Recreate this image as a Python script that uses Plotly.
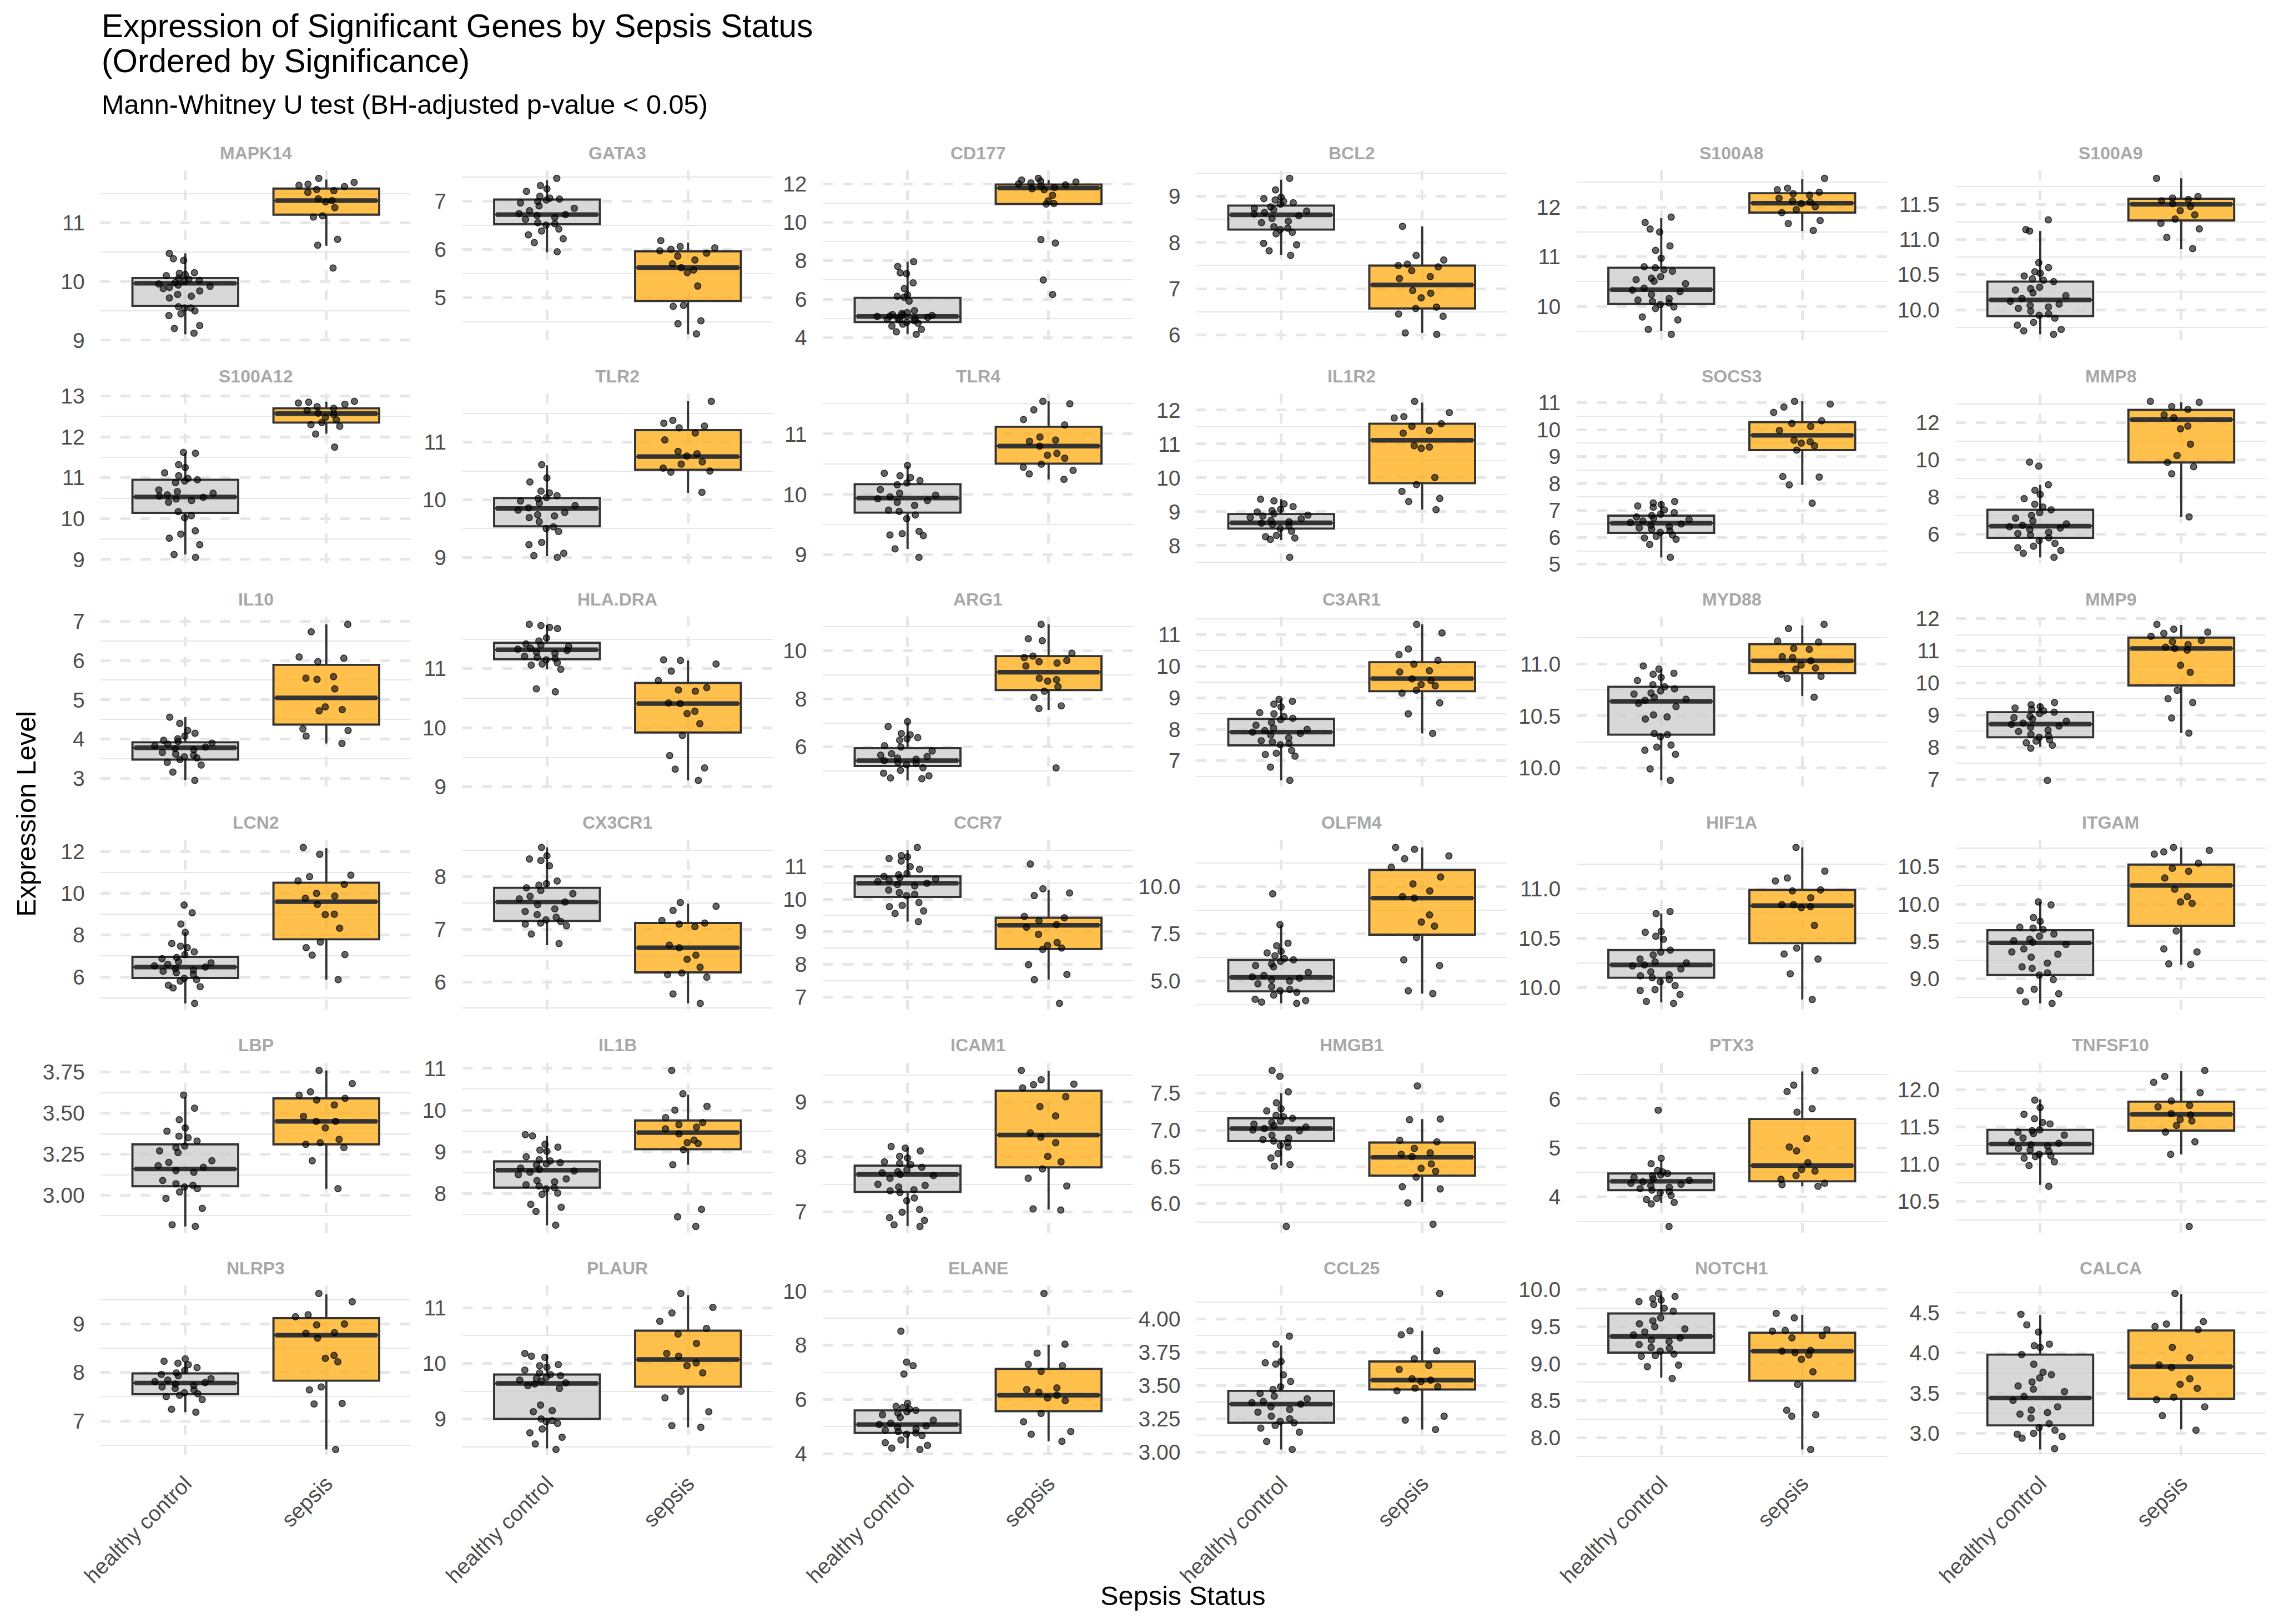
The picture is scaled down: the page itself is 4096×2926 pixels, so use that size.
import plotly.graph_objects as go

# ---------------- data ----------------
CATEGORIES = ["healthy control", "sepsis"]

GENES = ["MAPK14", "GATA3", "CD177", "BCL2", "S100A8", "S100A9",
         "S100A12", "TLR2", "TLR4", "IL1R2", "SOCS3", "MMP8",
         "IL10", "HLA.DRA", "ARG1", "C3AR1", "MYD88", "MMP9",
         "LCN2", "CX3CR1", "CCR7", "OLFM4", "HIF1A", "ITGAM",
         "LBP", "IL1B", "ICAM1", "HMGB1", "PTX3", "TNFSF10",
         "NLRP3", "PLAUR", "ELANE", "CCL25", "NOTCH1", "CALCA"]

# box statistics: [lower whisker, q1, median, q3, upper whisker]
HC_BOX = [
    [9.10, 9.585, 9.97, 10.06, 10.48], [5.94, 6.52, 6.72, 7.03, 7.43], [4.19, 4.81, 5.10, 6.07, 7.95],
    [7.73, 8.28, 8.60, 8.80, 9.36], [9.51, 10.05, 10.34, 10.78, 11.78], [9.65, 9.91, 10.14, 10.40, 11.12],
    [9.12, 10.14, 10.53, 10.95, 11.60], [9.02, 9.54, 9.85, 10.03, 10.60], [9.10, 9.70, 9.94, 10.17, 10.47],
    [8.16, 8.50, 8.67, 8.93, 9.37], [5.26, 6.17, 6.53, 6.81, 7.33], [4.75, 5.80, 6.43, 7.31, 8.66],
    [2.96, 3.48, 3.78, 3.92, 4.56], [10.99, 11.16, 11.32, 11.44, 11.74], [4.61, 5.21, 5.43, 5.95, 7.02],
    [6.38, 7.49, 7.91, 8.33, 8.95], [9.88, 10.32, 10.64, 10.78, 10.95], [8.01, 8.31, 8.72, 9.09, 9.34],
    [4.73, 5.95, 6.47, 6.96, 8.13], [6.70, 7.16, 7.52, 7.79, 8.56], [9.31, 10.07, 10.49, 10.70, 11.51],
    [3.81, 4.45, 5.19, 6.12, 7.95], [9.85, 10.10, 10.23, 10.38, 10.75], [8.67, 9.05, 9.48, 9.65, 10.03],
    [2.81, 3.055, 3.16, 3.31, 3.60], [7.24, 8.14, 8.56, 8.77, 9.38], [6.74, 7.36, 7.68, 7.84, 8.17],
    [6.52, 6.85, 7.02, 7.16, 7.50], [3.88, 4.14, 4.32, 4.48, 4.75], [10.72, 11.14, 11.27, 11.46, 11.87],
    [7.18, 7.55, 7.78, 7.98, 8.22], [8.47, 9.00, 9.64, 9.80, 10.16], [4.21, 4.77, 5.08, 5.60, 5.86],
    [3.02, 3.22, 3.36, 3.46, 3.80], [8.81, 9.15, 9.37, 9.68, 9.93], [2.80, 3.10, 3.44, 3.98, 4.47],
]

SEPSIS_BOX = [
    [10.61, 11.14, 11.38, 11.585, 11.74], [4.24, 4.93, 5.62, 5.96, 6.14], [10.92, 10.95, 11.78, 11.97, 12.20],
    [6.04, 6.57, 7.08, 7.50, 8.35], [11.52, 11.89, 12.08, 12.28, 12.56], [10.86, 11.27, 11.50, 11.58, 11.87],
    [12.08, 12.35, 12.57, 12.70, 12.86], [10.12, 10.52, 10.75, 11.21, 11.71], [10.25, 10.51, 10.80, 11.12, 11.54],
    [9.06, 9.84, 11.11, 11.60, 12.22], [7.95, 9.24, 9.79, 10.28, 11.05], [6.93, 9.86, 12.17, 12.69, 13.10],
    [3.89, 4.37, 5.05, 5.89, 6.92], [9.11, 9.92, 10.41, 10.76, 11.14], [7.54, 8.37, 9.11, 9.78, 11.10],
    [7.87, 9.21, 9.61, 10.13, 11.33], [10.69, 10.91, 11.03, 11.19, 11.37], [8.44, 9.92, 11.07, 11.41, 11.80],
    [5.87, 7.80, 9.60, 10.51, 12.16], [5.59, 6.18, 6.65, 7.12, 7.49], [7.53, 8.47, 9.20, 9.43, 10.28],
    [4.33, 7.46, 9.40, 10.90, 12.09], [9.88, 10.45, 10.83, 10.99, 11.42], [9.19, 9.71, 10.25, 10.53, 10.76],
    [3.04, 3.31, 3.45, 3.59, 3.76], [8.69, 9.06, 9.46, 9.75, 10.37], [7.04, 7.81, 8.40, 9.21, 9.57],
    [6.02, 6.38, 6.63, 6.83, 7.15], [4.22, 4.32, 4.64, 5.59, 6.56], [11.13, 11.45, 11.67, 11.84, 12.25],
    [6.41, 7.83, 8.77, 9.12, 9.61], [8.85, 9.58, 10.07, 10.59, 11.23], [4.46, 5.57, 6.16, 7.13, 8.02],
    [3.17, 3.47, 3.54, 3.68, 3.91], [7.84, 8.77, 9.17, 9.42, 9.66], [3.05, 3.43, 3.83, 4.28, 4.73],
]

HC_POINTS = [
    [10.48, 10.39, 10.36, 10.14, 10.15, 10.12, 10.10, 10.06, 10.04, 10.02, 10.00, 9.98, 9.96, 9.94, 9.92, 9.90, 9.88, 9.84, 9.78, 9.75, 9.72, 9.57, 9.55, 9.55, 9.50, 9.45, 9.42, 9.25, 9.20, 9.12],
    [7.47, 7.32, 7.25, 7.20, 7.10, 7.06, 7.04, 7.02, 6.99, 6.96, 6.90, 6.85, 6.80, 6.74, 6.72, 6.70, 6.66, 6.62, 6.55, 6.53, 6.50, 6.42, 6.38, 6.30, 6.22, 6.14, 5.95],
    [7.95, 7.70, 7.37, 7.33, 6.85, 6.55, 6.22, 6.15, 6.10, 5.90, 5.40, 5.30, 5.25, 5.20, 5.18, 5.15, 5.12, 5.10, 5.05, 5.00, 4.98, 4.95, 4.92, 4.88, 4.80, 4.75, 4.70, 4.60, 4.43, 4.30, 4.17],
    [9.39, 9.14, 8.98, 8.95, 8.92, 8.89, 8.86, 8.83, 8.77, 8.74, 8.71, 8.68, 8.65, 8.62, 8.58, 8.52, 8.46, 8.43, 8.34, 8.31, 8.28, 8.22, 8.19, 7.98, 7.95, 7.82, 7.72],
    [11.80, 11.69, 11.56, 11.50, 11.22, 11.13, 10.97, 10.80, 10.78, 10.74, 10.71, 10.60, 10.57, 10.54, 10.51, 10.46, 10.37, 10.33, 10.30, 10.24, 10.16, 10.13, 10.10, 10.07, 10.04, 9.99, 9.96, 9.79, 9.73, 9.54, 9.44],
    [11.28, 11.14, 11.12, 10.67, 10.60, 10.54, 10.52, 10.48, 10.44, 10.42, 10.40, 10.32, 10.30, 10.28, 10.24, 10.20, 10.16, 10.12, 10.08, 10.06, 10.04, 10.02, 9.98, 9.94, 9.92, 9.88, 9.82, 9.78, 9.72, 9.70, 9.65],
    [11.62, 11.60, 11.32, 11.25, 11.12, 11.05, 10.98, 10.95, 10.92, 10.88, 10.70, 10.66, 10.62, 10.58, 10.55, 10.52, 10.48, 10.44, 10.40, 10.17, 10.07, 10.02, 9.70, 9.62, 9.52, 9.36, 9.12, 9.05],
    [10.61, 10.38, 10.31, 10.15, 10.12, 10.07, 10.04, 10.02, 9.98, 9.94, 9.90, 9.86, 9.82, 9.78, 9.74, 9.72, 9.69, 9.62, 9.53, 9.50, 9.45, 9.26, 9.22, 9.07, 9.03, 9.00],
    [10.48, 10.35, 10.31, 10.28, 10.23, 10.19, 10.16, 10.08, 10.02, 9.99, 9.96, 9.93, 9.90, 9.87, 9.82, 9.74, 9.72, 9.66, 9.60, 9.39, 9.35, 9.33, 9.32, 9.10, 8.96],
    [9.37, 9.32, 9.23, 9.15, 9.07, 9.03, 8.99, 8.94, 8.90, 8.87, 8.83, 8.79, 8.74, 8.70, 8.66, 8.62, 8.58, 8.50, 8.42, 8.30, 8.26, 8.22, 8.18, 7.65],
    [7.33, 7.28, 7.22, 7.17, 7.12, 7.02, 6.92, 6.86, 6.81, 6.76, 6.71, 6.66, 6.61, 6.55, 6.50, 6.45, 6.40, 6.35, 6.30, 6.24, 6.19, 6.09, 6.04, 5.98, 5.93, 5.74, 5.26],
    [9.88, 9.66, 8.66, 8.36, 8.14, 7.91, 7.61, 7.46, 7.31, 7.16, 7.01, 6.86, 6.71, 6.55, 6.48, 6.40, 6.33, 6.25, 6.10, 6.03, 5.95, 5.80, 5.65, 5.50, 5.35, 5.27, 5.12, 4.97, 4.75],
    [4.56, 4.40, 4.22, 4.15, 4.08, 4.01, 3.97, 3.94, 3.90, 3.87, 3.83, 3.80, 3.76, 3.73, 3.66, 3.62, 3.59, 3.55, 3.52, 3.48, 3.41, 3.34, 3.16, 2.95],
    [11.75, 11.73, 11.70, 11.68, 11.52, 11.47, 11.42, 11.40, 11.38, 11.35, 11.33, 11.31, 11.28, 11.26, 11.21, 11.19, 11.17, 11.15, 11.10, 11.08, 11.06, 10.99, 10.66, 10.61],
    [7.05, 6.85, 6.56, 6.51, 6.39, 6.34, 6.28, 6.05, 6.00, 5.83, 5.72, 5.66, 5.60, 5.54, 5.49, 5.43, 5.37, 5.32, 5.26, 5.14, 5.03, 4.91, 4.80, 4.71, 4.68],
    [8.95, 8.89, 8.80, 8.71, 8.53, 8.49, 8.40, 8.35, 8.31, 8.22, 8.13, 8.04, 8.00, 7.96, 7.91, 7.87, 7.82, 7.73, 7.64, 7.60, 7.55, 7.51, 7.33, 7.24, 7.20, 7.15, 6.80, 6.38],
    [10.98, 10.95, 10.91, 10.90, 10.87, 10.84, 10.80, 10.78, 10.76, 10.74, 10.72, 10.71, 10.68, 10.66, 10.65, 10.62, 10.59, 10.51, 10.49, 10.47, 10.33, 10.32, 10.30, 10.22, 10.20, 10.17, 10.13, 9.99, 9.88],
    [9.39, 9.32, 9.26, 9.22, 9.18, 9.13, 9.09, 9.05, 8.96, 8.92, 8.88, 8.81, 8.75, 8.71, 8.66, 8.62, 8.53, 8.49, 8.40, 8.36, 8.31, 8.23, 8.19, 8.14, 8.06, 7.97, 6.97],
    [9.44, 9.07, 8.53, 8.13, 7.60, 7.47, 7.40, 7.20, 7.07, 6.93, 6.87, 6.73, 6.67, 6.60, 6.53, 6.47, 6.40, 6.33, 6.27, 6.20, 6.13, 5.93, 5.87, 5.80, 5.60, 5.53, 5.47, 4.73],
    [8.56, 8.40, 8.34, 8.31, 8.21, 7.92, 7.87, 7.84, 7.79, 7.74, 7.68, 7.63, 7.58, 7.52, 7.47, 7.39, 7.34, 7.28, 7.23, 7.18, 7.15, 7.12, 7.10, 7.07, 6.91, 6.73],
    [11.59, 11.34, 11.30, 11.25, 11.17, 11.00, 10.92, 10.79, 10.75, 10.70, 10.66, 10.62, 10.58, 10.54, 10.49, 10.45, 10.41, 10.28, 10.20, 10.15, 10.11, 9.90, 9.81, 9.77, 9.64, 9.56, 9.31],
    [9.63, 7.99, 7.01, 6.87, 6.57, 6.49, 6.34, 6.19, 6.12, 6.04, 5.90, 5.82, 5.75, 5.45, 5.30, 5.22, 5.15, 5.07, 5.00, 4.85, 4.70, 4.55, 4.48, 4.40, 4.25, 4.03, 3.96, 3.88, 3.81],
    [10.77, 10.75, 10.57, 10.56, 10.52, 10.49, 10.38, 10.36, 10.33, 10.29, 10.26, 10.25, 10.23, 10.22, 10.19, 10.16, 10.13, 10.12, 10.10, 10.08, 10.06, 10.02, 9.98, 9.97, 9.93, 9.86, 9.84],
    [10.03, 9.99, 9.82, 9.77, 9.69, 9.68, 9.66, 9.60, 9.57, 9.53, 9.51, 9.49, 9.46, 9.40, 9.36, 9.33, 9.29, 9.21, 9.16, 9.14, 9.08, 9.05, 8.99, 8.86, 8.84, 8.80, 8.69, 8.67],
    [3.61, 3.53, 3.46, 3.41, 3.39, 3.36, 3.35, 3.33, 3.30, 3.29, 3.27, 3.26, 3.21, 3.20, 3.18, 3.17, 3.15, 3.14, 3.09, 3.07, 3.06, 3.05, 3.04, 3.02, 2.98, 2.92, 2.82, 2.81],
    [9.41, 9.38, 9.18, 9.11, 9.04, 9.01, 8.88, 8.81, 8.78, 8.74, 8.71, 8.68, 8.61, 8.58, 8.54, 8.51, 8.45, 8.35, 8.31, 8.28, 8.21, 8.18, 8.14, 8.11, 8.01, 7.98, 7.74, 7.67, 7.57, 7.24],
    [8.19, 8.16, 8.11, 8.01, 7.98, 7.91, 7.88, 7.86, 7.81, 7.76, 7.73, 7.71, 7.68, 7.66, 7.61, 7.50, 7.48, 7.45, 7.40, 7.38, 7.35, 7.25, 7.20, 7.04, 6.99, 6.89, 6.84, 6.76, 6.73],
    [7.81, 7.73, 7.52, 7.37, 7.29, 7.26, 7.20, 7.18, 7.16, 7.12, 7.10, 7.08, 7.06, 7.04, 7.02, 7.00, 6.99, 6.93, 6.89, 6.87, 6.85, 6.83, 6.79, 6.77, 6.68, 6.62, 6.53, 6.51, 5.69],
    [5.77, 4.79, 4.68, 4.54, 4.51, 4.48, 4.45, 4.43, 4.40, 4.37, 4.34, 4.31, 4.28, 4.26, 4.23, 4.20, 4.17, 4.14, 4.11, 4.09, 4.03, 3.97, 3.95, 3.89, 3.86, 3.40],
    [11.86, 11.76, 11.67, 11.61, 11.56, 11.54, 11.46, 11.45, 11.43, 11.41, 11.39, 11.35, 11.30, 11.28, 11.26, 11.24, 11.21, 11.19, 11.17, 11.13, 11.11, 11.10, 11.08, 11.03, 10.98, 10.70],
    [8.28, 8.23, 8.19, 8.16, 8.10, 8.04, 7.99, 7.96, 7.93, 7.87, 7.84, 7.81, 7.79, 7.76, 7.73, 7.70, 7.67, 7.64, 7.58, 7.56, 7.53, 7.50, 7.44, 7.24, 7.18],
    [10.18, 10.13, 10.11, 9.98, 9.96, 9.93, 9.88, 9.83, 9.80, 9.78, 9.75, 9.73, 9.70, 9.68, 9.65, 9.63, 9.60, 9.55, 9.25, 9.15, 9.13, 9.00, 8.97, 8.95, 8.92, 8.82, 8.75, 8.67, 8.55, 8.45],
    [8.52, 7.38, 7.25, 6.94, 5.86, 5.75, 5.70, 5.65, 5.60, 5.55, 5.50, 5.44, 5.34, 5.24, 5.13, 5.08, 5.03, 4.98, 4.92, 4.87, 4.82, 4.77, 4.72, 4.67, 4.51, 4.41, 4.31, 4.21, 4.16],
    [3.87, 3.81, 3.68, 3.67, 3.66, 3.58, 3.53, 3.49, 3.47, 3.44, 3.42, 3.40, 3.38, 3.37, 3.36, 3.34, 3.32, 3.30, 3.27, 3.25, 3.23, 3.22, 3.20, 3.18, 3.15, 3.08, 3.02],
    [9.95, 9.91, 9.88, 9.86, 9.84, 9.80, 9.75, 9.71, 9.62, 9.58, 9.54, 9.50, 9.47, 9.43, 9.39, 9.35, 9.32, 9.30, 9.26, 9.22, 9.21, 9.17, 9.13, 9.11, 9.10, 8.98, 8.96, 8.80],
    [4.48, 4.35, 4.26, 4.11, 4.09, 4.07, 3.98, 3.86, 3.76, 3.73, 3.69, 3.64, 3.59, 3.55, 3.52, 3.46, 3.41, 3.33, 3.29, 3.26, 3.24, 3.19, 3.12, 3.07, 3.04, 3.00, 2.99, 2.96, 2.94, 2.81],
]

SEPSIS_POINTS = [
    [11.76, 11.69, 11.66, 11.64, 11.62, 11.57, 11.55, 11.52, 11.41, 11.38, 11.36, 11.26, 11.12, 11.10, 10.72, 10.62, 10.23],
    [6.18, 6.06, 6.03, 6.00, 5.97, 5.92, 5.86, 5.78, 5.70, 5.62, 5.57, 5.52, 5.24, 4.84, 4.82, 4.52, 4.46, 4.25],
    [12.29, 12.20, 12.15, 12.10, 12.05, 12.00, 11.95, 11.90, 11.82, 11.75, 11.70, 11.41, 11.12, 10.98, 10.95, 9.10, 8.92, 7.00, 6.24],
    [8.35, 7.72, 7.62, 7.53, 7.50, 7.47, 7.39, 7.26, 7.22, 6.96, 6.90, 6.80, 6.60, 6.57, 6.45, 6.40, 6.04, 6.01],
    [12.58, 12.38, 12.35, 12.30, 12.27, 12.24, 12.18, 12.12, 12.10, 12.07, 12.01, 11.95, 11.89, 11.73, 11.67, 11.53],
    [11.87, 11.61, 11.59, 11.57, 11.55, 11.51, 11.47, 11.41, 11.35, 11.29, 11.23, 11.15, 11.03, 10.87],
    [12.87, 12.85, 12.83, 12.80, 12.74, 12.70, 12.65, 12.58, 12.55, 12.48, 12.42, 12.35, 12.30, 12.26, 12.07, 11.75],
    [11.71, 11.38, 11.33, 11.28, 11.25, 11.16, 11.04, 10.84, 10.80, 10.76, 10.66, 10.62, 10.55, 10.50, 10.48, 10.13],
    [11.54, 11.50, 11.40, 11.24, 11.15, 10.95, 10.90, 10.88, 10.80, 10.68, 10.65, 10.60, 10.50, 10.45, 10.40, 10.34, 10.25],
    [12.26, 11.93, 11.81, 11.77, 11.60, 11.52, 11.40, 11.32, 10.95, 10.91, 10.87, 10.01, 9.80, 9.60, 9.39, 9.30, 9.06],
    [11.05, 10.95, 10.84, 10.64, 10.33, 10.23, 10.12, 9.97, 9.61, 9.55, 9.50, 9.40, 9.24, 8.26, 8.24, 7.95, 7.27],
    [13.15, 13.10, 12.87, 12.72, 12.42, 12.27, 11.82, 11.67, 10.84, 10.24, 9.86, 9.63, 9.25, 6.93],
    [6.92, 6.73, 6.09, 6.06, 5.97, 5.59, 5.55, 5.52, 5.28, 4.82, 4.75, 4.72, 4.26, 4.22, 4.08, 3.89],
    [11.15, 11.14, 11.08, 10.96, 10.80, 10.68, 10.64, 10.62, 10.42, 10.41, 10.28, 10.24, 10.07, 9.87, 9.53, 9.32, 9.30, 9.11],
    [11.10, 10.50, 10.42, 9.90, 9.78, 9.72, 9.60, 9.55, 9.49, 9.37, 8.86, 8.80, 8.74, 8.51, 8.32, 8.06, 7.71, 7.60, 5.13],
    [11.33, 11.06, 10.55, 10.37, 10.19, 10.07, 9.86, 9.82, 9.60, 9.55, 9.42, 9.38, 9.24, 9.15, 8.84, 8.49, 7.87],
    [11.38, 11.34, 11.22, 11.21, 11.15, 11.14, 11.07, 11.06, 11.03, 10.99, 10.96, 10.95, 10.90, 10.88, 10.86, 10.68],
    [11.82, 11.67, 11.58, 11.54, 11.45, 11.32, 11.28, 11.19, 11.11, 11.07, 11.02, 10.55, 10.33, 9.77, 9.51, 9.39, 8.91, 8.44],
    [12.20, 11.87, 10.87, 10.80, 10.60, 10.43, 10.00, 9.87, 9.76, 9.47, 9.00, 8.98, 8.33, 7.67, 7.40, 7.07, 7.04, 5.87],
    [7.51, 7.44, 7.36, 7.17, 7.12, 7.10, 7.05, 6.70, 6.65, 6.51, 6.43, 6.28, 6.17, 6.14, 6.09, 5.77, 5.59],
    [11.08, 10.32, 10.19, 10.11, 9.47, 9.43, 9.34, 9.22, 9.14, 8.92, 8.67, 8.58, 8.50, 8.46, 7.99, 7.69, 7.53, 6.80],
    [12.09, 11.99, 11.64, 11.49, 11.04, 10.52, 10.15, 9.78, 9.48, 9.40, 8.51, 8.13, 7.91, 7.31, 6.12, 5.82, 4.48, 4.33],
    [11.42, 11.18, 11.11, 11.08, 10.99, 10.98, 10.91, 10.84, 10.84, 10.82, 10.81, 10.63, 10.40, 10.34, 10.29, 10.14, 9.88],
    [10.76, 10.72, 10.70, 10.67, 10.55, 10.48, 10.44, 10.35, 10.20, 10.10, 10.03, 10.01, 9.64, 9.40, 9.36, 9.20, 9.19],
    [3.76, 3.68, 3.63, 3.61, 3.59, 3.58, 3.55, 3.48, 3.45, 3.45, 3.41, 3.34, 3.32, 3.31, 3.29, 3.21, 3.04],
    [10.95, 10.39, 10.09, 10.00, 9.82, 9.70, 9.65, 9.59, 9.55, 9.43, 9.28, 9.22, 9.20, 9.05, 8.69, 7.62, 7.44, 7.21],
    [9.58, 9.41, 9.33, 9.32, 9.26, 9.10, 8.92, 8.75, 8.44, 8.36, 8.26, 8.01, 7.91, 7.78, 7.61, 7.47, 7.05, 7.03],
    [7.60, 7.15, 7.14, 6.86, 6.84, 6.75, 6.69, 6.67, 6.64, 6.54, 6.48, 6.44, 6.36, 6.23, 6.20, 6.01, 5.72],
    [6.58, 6.28, 6.15, 5.80, 5.73, 5.19, 5.02, 4.94, 4.70, 4.56, 4.53, 4.44, 4.36, 4.28, 4.25, 4.22],
    [12.26, 12.18, 12.10, 11.96, 11.85, 11.79, 11.77, 11.68, 11.66, 11.60, 11.58, 11.52, 11.43, 11.30, 11.13, 10.16],
    [9.63, 9.46, 9.19, 9.15, 9.00, 8.98, 8.82, 8.81, 8.71, 8.35, 8.29, 8.22, 7.70, 7.64, 7.36, 7.35, 6.41],
    [11.26, 11.01, 10.91, 10.76, 10.63, 10.53, 10.36, 10.18, 10.13, 10.01, 9.96, 9.83, 9.50, 9.38, 9.13, 8.88, 8.85],
    [9.91, 8.04, 7.71, 7.30, 7.25, 7.04, 6.43, 6.37, 6.27, 6.16, 6.06, 5.96, 5.49, 5.18, 4.82, 4.72, 4.46],
    [4.19, 3.91, 3.88, 3.76, 3.70, 3.65, 3.62, 3.55, 3.54, 3.53, 3.49, 3.48, 3.46, 3.27, 3.24, 3.17],
    [9.68, 9.62, 9.46, 9.45, 9.44, 9.38, 9.35, 9.18, 9.17, 9.15, 9.12, 9.06, 8.89, 8.72, 8.37, 8.31, 8.29, 7.84],
    [4.74, 4.39, 4.36, 4.33, 4.29, 4.07, 3.94, 3.85, 3.82, 3.68, 3.61, 3.56, 3.45, 3.42, 3.33, 3.22, 3.04],
]

Y_TICKS = [
    [9, 10, 11], [5, 6, 7], [4, 6, 8, 10, 12], [6, 7, 8, 9], [10, 11, 12], [10.0, 10.5, 11.0, 11.5],
    [9, 10, 11, 12, 13], [9, 10, 11], [9, 10, 11], [8, 9, 10, 11, 12], [5, 6, 7, 8, 9, 10, 11], [6, 8, 10, 12],
    [3, 4, 5, 6, 7], [9, 10, 11], [6, 8, 10], [7, 8, 9, 10, 11], [10.0, 10.5, 11.0], [7, 8, 9, 10, 11, 12],
    [6, 8, 10, 12], [6, 7, 8], [7, 8, 9, 10, 11], [5.0, 7.5, 10.0], [10.0, 10.5, 11.0], [9.0, 9.5, 10.0, 10.5],
    [3.00, 3.25, 3.50, 3.75], [8, 9, 10, 11], [7, 8, 9], [6.0, 6.5, 7.0, 7.5], [4, 5, 6], [10.5, 11.0, 11.5, 12.0],
    [7, 8, 9], [9, 10, 11], [4, 6, 8, 10], [3.00, 3.25, 3.50, 3.75, 4.00], [8.0, 8.5, 9.0, 9.5, 10.0], [3.0, 3.5, 4.0, 4.5],
]

TITLE_1 = "Expression of Significant Genes by Sepsis Status"
TITLE_2 = "(Ordered by Significance)"
SUBTITLE = "Mann-Whitney U test (BH-adjusted p-value < 0.05)"
X_TITLE = "Sepsis Status"
Y_TITLE = "Expression Level"

# ---------------- style / layout ----------------
REF_W, REF_H = 4200, 3000
W, H = 4096, 2926
FONT = "Liberation Sans, Arial, sans-serif"
FILLS = ["rgba(200,200,200,0.7)", "rgba(255,165,0,0.7)"]
OUTLINE = "#333333"
GRID = "#E6E6E6"
DASH = "18px,18px"
TICK_COLOR = "#4D4D4D"
STRIP_COLOR = "#A8A8A8"

COL_LEFT = [186, 854, 1520, 2210, 2912, 3612]   # reference pixels
PANEL_W = 573
ROW_TOP = [315, 727, 1139, 1551, 1963, 2375]
PANEL_H = 317


def fx(px):
    return px / REF_W


def fy(py):
    return 1 - py / REF_H


def fmt_ticks(vals):
    dec = 0
    for v in vals:
        if isinstance(v, float) and not v.is_integer():
            dec = max(dec, len(repr(v).split(".")[1]))
    return [f"{v:.{dec}f}" for v in vals]


fig = go.Figure()
layout = {}
annotations = []

for i, gene in enumerate(GENES):
    r, c = divmod(i, 6)
    sfx = "" if i == 0 else str(i + 1)
    xa, ya = "x" + sfx, "y" + sfx
    groups = [(HC_BOX[i], HC_POINTS[i]), (SEPSIS_BOX[i], SEPSIS_POINTS[i])]
    all_vals = []
    for g, (b, pts) in enumerate(groups):
        cat = CATEGORIES[g]
        all_vals += list(pts) + [b[0], b[4]]
        # box + whiskers
        fig.add_trace(go.Box(
            x=[cat], q1=[b[1]], median=[b[2]], q3=[b[3]],
            lowerfence=[b[0]], upperfence=[b[4]],
            width=0.75, fillcolor=FILLS[g], whiskerwidth=0,
            line=dict(color=OUTLINE, width=3.9),
            boxpoints=False, xaxis=xa, yaxis=ya,
            hoverinfo="skip", showlegend=False))
        # thick median bar
        fig.add_trace(go.Box(
            x=[cat], q1=[b[2]], median=[b[2]], q3=[b[2]],
            lowerfence=[b[2]], upperfence=[b[2]],
            width=0.72, fillcolor="rgba(0,0,0,0)", whiskerwidth=0,
            line=dict(color=OUTLINE, width=8.3),
            boxpoints=False, xaxis=xa, yaxis=ya,
            hoverinfo="skip", showlegend=False))
        # jittered points
        fig.add_trace(go.Box(
            x=[cat] * len(pts), y=pts,
            boxpoints="all", jitter=0.6, pointpos=0, width=0.75,
            fillcolor="rgba(0,0,0,0)", whiskerwidth=0,
            line=dict(color="rgba(0,0,0,0)", width=0),
            marker=dict(size=11.5, color="rgba(0,0,0,0.6)",
                        line=dict(width=1.7, color="rgba(0,0,0,0.72)")),
            xaxis=xa, yaxis=ya, hoverinfo="skip", showlegend=False))

    lo, hi = min(all_vals), max(all_vals)
    pad = 0.05 * (hi - lo)
    ticks = Y_TICKS[i]
    step = ticks[1] - ticks[0]
    minor = [t - step / 2 for t in ticks] + [ticks[-1] + step / 2]

    x0 = COL_LEFT[c]
    y0 = ROW_TOP[r]
    layout["xaxis" + sfx] = dict(
        domain=[fx(x0), fx(x0 + PANEL_W)], anchor=ya, automargin=False,
        type="category", categoryorder="array", categoryarray=CATEGORIES,
        range=[-0.6, 1.6], showgrid=True, gridcolor=GRID, gridwidth=4.5,
        griddash=DASH, zeroline=False, showline=False,
        showticklabels=(r == 5), tickangle=-45,
        ticks="outside" if r == 5 else "", ticklen=8, tickcolor="rgba(0,0,0,0)",
        tickfont=dict(family=FONT, size=39, color=TICK_COLOR),
        fixedrange=True)
    layout["yaxis" + sfx] = dict(
        domain=[fy(y0 + PANEL_H), fy(y0)], anchor=xa, automargin=False,
        range=[lo - pad, hi + pad],
        tickmode="array", tickvals=ticks, ticktext=fmt_ticks(ticks),
        showgrid=True, gridcolor=GRID, gridwidth=4.5, griddash=DASH,
        minor=dict(tickmode="array", tickvals=minor, showgrid=True,
                   gridcolor=GRID, gridwidth=2.3, griddash="solid", ticks=""),
        zeroline=False, showline=False,
        ticks="outside", ticklen=20, tickcolor="rgba(0,0,0,0)",
        tickfont=dict(family=FONT, size=39, color=TICK_COLOR),
        fixedrange=True)

    annotations.append(dict(
        text=f"<b>{gene}</b>", xref="paper", yref="paper",
        x=fx(x0 + PANEL_W / 2), y=fy(y0 - 32), xanchor="center", yanchor="middle",
        showarrow=False, font=dict(family=FONT, size=32, color=STRIP_COLOR)))

# titles
annotations += [
    dict(text=TITLE_1, xref="paper", yref="paper", x=fx(186), y=fy(48),
         xanchor="left", yanchor="middle", showarrow=False,
         font=dict(family=FONT, size=58.5, color="black")),
    dict(text=TITLE_2, xref="paper", yref="paper", x=fx(186), y=fy(112),
         xanchor="left", yanchor="middle", showarrow=False,
         font=dict(family=FONT, size=58.5, color="black")),
    dict(text=SUBTITLE, xref="paper", yref="paper", x=fx(186), y=fy(193),
         xanchor="left", yanchor="middle", showarrow=False,
         font=dict(family=FONT, size=48.7, color="black")),
    dict(text=X_TITLE, xref="paper", yref="paper", x=fx(2185), y=fy(2948),
         xanchor="center", yanchor="middle", showarrow=False,
         font=dict(family=FONT, size=48.7, color="black")),
    dict(text=Y_TITLE, xref="paper", yref="paper", x=fx(48), y=fy(1503),
         xanchor="center", yanchor="middle", showarrow=False, textangle=-90,
         font=dict(family=FONT, size=48.7, color="black")),
]

fig.update_layout(
    width=W, height=H, margin=dict(l=0, r=0, t=0, b=0, autoexpand=False),
    paper_bgcolor="white", plot_bgcolor="white",
    boxmode="overlay", showlegend=False,
    font=dict(family=FONT, color="black"),
    annotations=annotations, **layout)

fig.write_html("out.html")
